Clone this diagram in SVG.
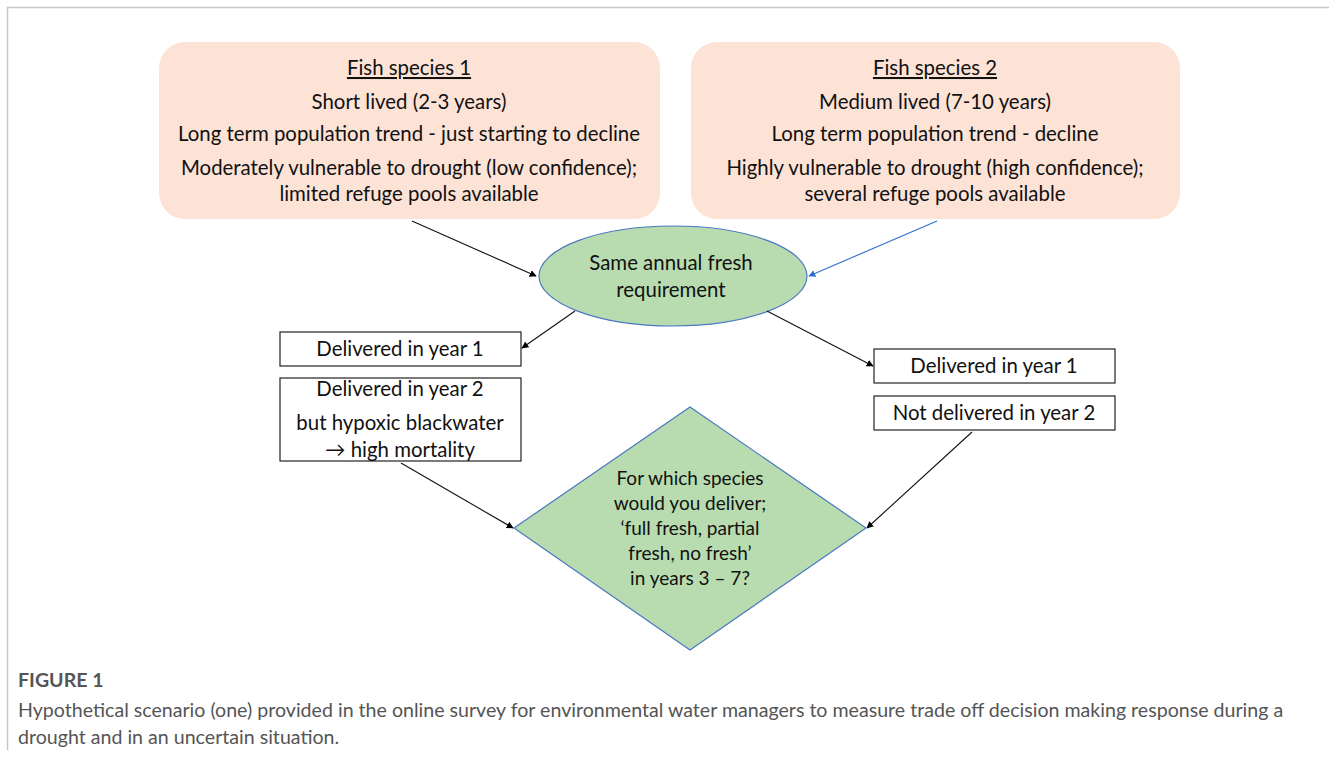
<svg xmlns="http://www.w3.org/2000/svg" width="1329" height="767" viewBox="0 0 1329 767">
<defs>
<marker id="ah" viewBox="0 0 10 10" refX="9" refY="5" markerWidth="7" markerHeight="7" orient="auto" markerUnits="userSpaceOnUse"><path d="M0,0 L10,5 L0,10 z" fill="#000"/></marker>
<marker id="ahb" viewBox="0 0 10 10" refX="9" refY="5" markerWidth="7" markerHeight="7" orient="auto" markerUnits="userSpaceOnUse"><path d="M0,0 L10,5 L0,10 z" fill="#2f6fd0"/></marker>
<style>
.t{font-family:Lato,"Liberation Sans",sans-serif;font-size:20.4px;fill:#111;text-anchor:middle}
.d{font-size:19px}
.sp{fill:#fce3d6;stroke:none}
.bx{fill:#fff;stroke:#222;stroke-width:1.2}
.gr{fill:#b8dcb0;stroke:#4a78c0;stroke-width:1.2}
.c{stroke:#111;stroke-width:1.1;fill:none;marker-end:url(#ah)}
.cb{stroke:#2f6fd0;stroke-width:1.1;fill:none;marker-end:url(#ahb)}
.cap{font-family:Lato,"Liberation Sans",sans-serif;fill:#555;font-size:19.6px}
</style>
</defs>
<rect width="1329" height="767" fill="#fff"/>
<path d="M7.5,750 V7.5 H1329" fill="none" stroke="#c8c8c8" stroke-width="1.5"/>

<g id="species1">
<rect class="sp" x="159" y="42" width="501" height="177" rx="26"/>
<text class="t" x="409" y="75" text-decoration="underline">Fish species 1</text>
<text class="t" x="409" y="109">Short lived (2-3 years)</text>
<text class="t" x="409" y="141">Long term population trend - just starting to decline</text>
<text class="t" x="409" y="175">Moderately vulnerable to drought (low confidence);</text>
<text class="t" x="409" y="201">limited refuge pools available</text>
</g>

<g id="species2">
<rect class="sp" x="691" y="42" width="489" height="177" rx="26"/>
<text class="t" x="935" y="75" text-decoration="underline">Fish species 2</text>
<text class="t" x="935" y="109">Medium lived (7-10 years)</text>
<text class="t" x="935" y="141">Long term population trend - decline</text>
<text class="t" x="935" y="175">Highly vulnerable to drought (high confidence);</text>
<text class="t" x="935" y="201">several refuge pools available</text>
</g>

<g id="requirement">
<ellipse class="gr" cx="673" cy="276" rx="134" ry="50"/>
<text class="t" x="671" y="270">Same annual fresh</text>
<text class="t" x="671" y="297">requirement</text>
</g>

<g id="left-year1">
<rect class="bx" x="280" y="332" width="241" height="34"/>
<text class="t" x="400" y="356">Delivered in year 1</text>
</g>

<g id="left-year2">
<rect class="bx" x="280" y="378" width="241" height="83"/>
<text class="t" x="400" y="396">Delivered in year 2</text>
<text class="t" x="400" y="430">but hypoxic blackwater</text>
<text class="t" x="400" y="457">→ high mortality</text>
</g>

<g id="right-year1">
<rect class="bx" x="874" y="349" width="241" height="34"/>
<text class="t" x="994" y="373">Delivered in year 1</text>
</g>

<g id="right-year2">
<rect class="bx" x="874" y="396" width="241" height="34"/>
<text class="t" x="994" y="420">Not delivered in year 2</text>
</g>

<g id="decision">
<polygon class="gr" points="690,407 866,528 690,650 514,528"/>
<text class="t d" x="690" y="485">For which species</text>
<text class="t d" x="690" y="510">would you deliver;</text>
<text class="t d" x="690" y="535">‘full fresh, partial</text>
<text class="t d" x="690" y="560">fresh, no fresh’</text>
<text class="t d" x="690" y="585">in years 3 – 7?</text>
</g>

<g id="connectors">
<line class="c" x1="412" y1="221" x2="536" y2="276"/>
<line class="cb" x1="937" y1="221" x2="809" y2="276"/>
<line class="c" x1="575" y1="311" x2="522" y2="348"/>
<line class="c" x1="767" y1="311" x2="873" y2="366"/>
<line class="c" x1="401" y1="463" x2="513" y2="528"/>
<line class="c" x1="972" y1="432" x2="867" y2="528"/>
</g>

<g id="caption">
<text class="cap" x="18" y="687" font-weight="bold">FIGURE 1</text>
<text class="cap" x="18" y="717">Hypothetical scenario (one) provided in the online survey for environmental water managers to measure trade off decision making response during a</text>
<text class="cap" x="18" y="744">drought and in an uncertain situation.</text>
</g>
</svg>
